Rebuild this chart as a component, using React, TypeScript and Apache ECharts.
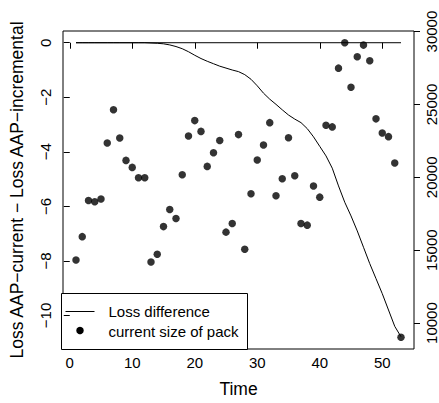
import React, { useEffect, useRef } from "react";
import * as echarts from "echarts";

const times = [1, 2, 3, 4, 5, 6, 7, 8, 9, 10, 11, 12, 13, 14, 15, 16, 17, 18, 19, 20, 21, 22, 23, 24, 25, 26, 27, 28, 29, 30, 31, 32, 33, 34, 35, 36, 37, 38, 39, 40, 41, 42, 43, 44, 45, 46, 47, 48, 49, 50, 51, 52, 53];

const lossDifference = [
  0, 0, 0, 0, 0, 0, 0, 0, 0, 0, 0, 0, -0.01, -0.02, -0.04, -0.08, -0.14, -0.22, -0.33, -0.46,
  -0.58, -0.68, -0.77, -0.86, -0.93, -1.0, -1.06, -1.17, -1.34, -1.58, -1.85, -2.07, -2.26, -2.46, -2.65, -2.8,
  -2.93, -3.15, -3.45, -3.8, -4.15, -4.6, -5.25, -5.85, -6.35, -6.9, -7.5, -8.1, -8.65, -9.2, -9.8, -10.4, -10.78,
];

const packSize = [
  14330, 15930, 18410, 18320, 18510, 22360, 24630, 22700, 21160, 20680, 19970, 19970, 14190, 14720, 16620, 17790,
  17170, 20180, 22840, 23890, 23150, 20750, 21690, 22520, 16240, 16830, 22930, 15070, 18870, 21190, 22220, 23750,
  18730, 19900, 22720, 20110, 16830, 16720, 19400, 18640, 23570, 23460, 27490, 29230, 26180, 28270, 29070, 28000,
  24010, 23040, 22790, 20980, 9030,
];

const zeroLineX = [1, 53];
const zeroLineY = [0, 0];

const xTicks = [0, 10, 20, 30, 40, 50];
const leftTicks = [-10, -8, -6, -4, -2, 0];
const rightTicks = [10000, 15000, 20000, 25000, 30000];

const legendLabels = ["Loss difference", "current size of pack"];

const FONT = "Liberation Sans, Arial, Helvetica, sans-serif";
const minus = (v: number) => String(v).replace("-", "\u2212");

export default function App() {
  const ref = useRef<HTMLDivElement>(null);

  useEffect(() => {
    if (!ref.current) return;
    const chart = echarts.init(ref.current, undefined, { renderer: "svg" });

    const gLeft = 61, gRight = 416, gTop = 31, gBottom = 349;

    const option: any = {
      animation: false,
      backgroundColor: "#ffffff",
      textStyle: { fontFamily: FONT, color: "#000" },
      grid: {
        left: gLeft,
        top: gTop,
        width: gRight - gLeft,
        height: gBottom - gTop,
        show: true,
        borderColor: "#000",
        borderWidth: 1,
        backgroundColor: "transparent",
      },
      xAxis: {
        type: "value",
        min: -1.08,
        max: 55.08,
        name: "Time",
        nameLocation: "middle",
        nameGap: 31,
        nameTextStyle: { fontSize: 17.5, color: "#000", fontFamily: FONT },
        axisLine: { show: false },
        splitLine: { show: false },
        axisTick: { show: true, customValues: xTicks, length: 6, lineStyle: { color: "#000" } },
        axisLabel: {
          customValues: xTicks,
          fontSize: 15,
          color: "#000",
          fontFamily: FONT,
          margin: 6,
          formatter: (v: number) => String(v),
        },
      },
      yAxis: [
        {
          type: "value",
          position: "left",
          min: -11.23,
          max: 0.43,
          name: "Loss AAP\u2212current \u2212 Loss AAP\u2212incremental",
          nameLocation: "middle",
          nameRotate: 90,
          nameGap: 37,
          nameTextStyle: { fontSize: 17.5, color: "#000", fontFamily: FONT },
          axisLine: { show: false },
          splitLine: { show: false },
          axisTick: { show: true, customValues: leftTicks, length: 6, lineStyle: { color: "#000" } },
          axisLabel: {
            customValues: leftTicks,
            rotate: 90,
            fontSize: 15,
            color: "#000",
            fontFamily: FONT,
            margin: 10,
            formatter: (v: number) => minus(v),
          },
        },
        {
          type: "value",
          position: "right",
          min: 8222,
          max: 30038,
          axisLine: { show: false },
          splitLine: { show: false },
          axisTick: { show: true, customValues: rightTicks, length: 6, lineStyle: { color: "#000" } },
          axisLabel: {
            customValues: rightTicks,
            rotate: 90,
            fontSize: 15,
            color: "#000",
            fontFamily: FONT,
            margin: 10,
            formatter: (v: number) => String(v),
          },
        },
      ],
      series: [
        {
          name: legendLabels[0],
          type: "line",
          yAxisIndex: 0,
          data: times.map((t, i) => [t, lossDifference[i]]),
          symbol: "none",
          lineStyle: { color: "#000", width: 1 },
          z: 3,
        },
        {
          name: "zero",
          type: "line",
          yAxisIndex: 0,
          data: zeroLineX.map((t, i) => [t, zeroLineY[i]]),
          symbol: "none",
          lineStyle: { color: "#000", width: 1 },
          z: 3,
        },
        {
          name: legendLabels[1],
          type: "scatter",
          yAxisIndex: 1,
          data: times.map((t, i) => [t, packSize[i]]),
          symbol: "circle",
          symbolSize: 7.5,
          itemStyle: { color: "#000" },
          z: 4,
        },
      ],
      graphic: [
        {
          type: "group",
          left: gLeft,
          top: 293,
          z: 10,
          children: [
            {
              type: "rect",
              shape: { x: 0, y: 0, width: 186, height: 56 },
              style: { fill: "#fff", stroke: "#000", lineWidth: 1 },
            },
            {
              type: "line",
              shape: { x1: 4, y1: 18, x2: 33, y2: 18 },
              style: { stroke: "#000", lineWidth: 1 },
            },
            {
              type: "text",
              x: 47,
              y: 18,
              style: {
                text: legendLabels[0],
                fontSize: 15,
                fontFamily: FONT,
                fill: "#000",
                verticalAlign: "middle",
                textAlign: "left",
              },
            },
            {
              type: "circle",
              shape: { cx: 18.5, cy: 37, r: 3.75 },
              style: { fill: "#000" },
            },
            {
              type: "text",
              x: 47,
              y: 38,
              style: {
                text: legendLabels[1],
                fontSize: 15,
                fontFamily: FONT,
                fill: "#000",
                verticalAlign: "middle",
                textAlign: "left",
              },
            },
          ],
        },
      ],
    };

    chart.setOption(option);
    return () => chart.dispose();
  }, []);

  return (
    <div
      ref={ref}
      style={{ position: "fixed", left: 0, top: 0, width: 439, height: 403, background: "#fff" }}
    />
  );
}
